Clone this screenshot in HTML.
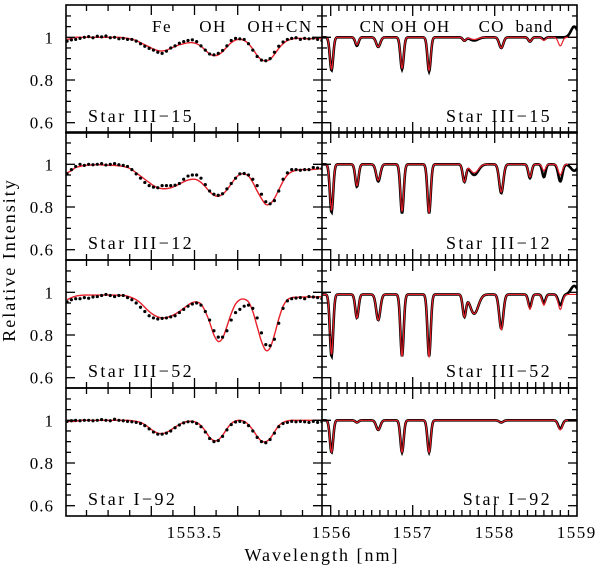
<!DOCTYPE html>
<html><head><meta charset="utf-8"><style>
html,body{margin:0;padding:0;background:#fff;}
svg{display:block;font-family:"Liberation Serif",serif;}
</style></head><body>
<svg id="chart" width="600" height="571" viewBox="0 0 600 571" xmlns="http://www.w3.org/2000/svg"></svg>
<script>
// ---- data ----
const stars = ["Star III\u221215","Star III\u221212","Star III\u221252","Star I\u221292"];
// left panel: grid 1553.20 + 0.01*i
const leftStart = 1553.205, leftStep = 0.01;
const leftModel15 = [.99,.995,1,1,1,1,1,1,1,1,1,1,1,.998,.995,.99,.985,.975,.965,.955,.945,.938,.936,.94,.948,.957,.965,.97,.974,.975,.97,.958,.94,.922,.914,.918,.933,.955,.975,.987,.99,.985,.97,.945,.915,.895,.89,.897,.92,.948,.97,.985,.992,.995,.995,.994,.993,.994,.995,.995];
const leftObs15 = [.982,.988,.99,.995,1.0,1.003,.998,1.005,1.002,1.006,.998,1.0,.993,.995,.99,.99,.982,.97,.958,.948,.94,.93,.925,.935,.95,.96,.972,.98,.985,.988,.98,.96,.94,.922,.918,.925,.938,.96,.985,.995,.993,.99,.97,.94,.91,.893,.89,.9,.93,.958,.978,.99,.995,.998,.99,.995,.993,.996,.99,.985];
const leftModel12 = [.96,.97,.985,.99,.995,.996,.997,.998,.997,.996,.995,.995,.993,.99,.985,.975,.96,.945,.93,.915,.9,.89,.886,.886,.89,.898,.908,.918,.926,.93,.928,.915,.895,.872,.855,.85,.86,.88,.908,.935,.952,.955,.945,.915,.875,.84,.812,.815,.84,.88,.92,.95,.965,.972,.975,.975,.975,.976,.978,.98];
const leftObs12 = [.955,.975,.99,1.0,.995,1.0,.998,1.0,1.003,.997,1.0,1.003,.998,.995,.99,.975,.955,.935,.915,.9,.893,.89,.9,.9,.9,.902,.91,.93,.945,.95,.95,.935,.905,.875,.86,.855,.862,.885,.91,.935,.955,.957,.95,.93,.9,.86,.825,.815,.83,.875,.93,.96,.975,.975,.972,.975,.975,.985,.983,.98];
const leftModel52 = [.965,.975,.982,.985,.987,.987,.987,.987,.987,.987,.987,.987,.986,.985,.982,.975,.965,.95,.93,.91,.895,.885,.88,.882,.888,.898,.91,.925,.94,.952,.955,.945,.91,.86,.8,.77,.785,.84,.9,.945,.965,.968,.955,.91,.84,.77,.728,.74,.8,.875,.935,.965,.975,.977,.977,.978,.978,.978,.979,.98];
const leftObs52 = [.955,.965,.97,.97,.975,.972,.978,.98,.985,.99,.985,.98,.985,.985,.975,.965,.95,.93,.91,.89,.88,.875,.878,.88,.885,.89,.905,.92,.935,.945,.95,.94,.91,.87,.82,.79,.79,.82,.87,.905,.92,.935,.94,.925,.88,.81,.755,.75,.78,.855,.925,.96,.97,.973,.975,.97,.98,.978,.975,.97];
const leftModel92 = [.995,.995,.995,1,1,1,1,1,1,1,1,1,1,1,1,.998,.995,.99,.98,.965,.95,.94,.938,.943,.955,.968,.98,.99,.995,.995,.99,.975,.95,.92,.905,.908,.93,.96,.985,.997,1,.995,.98,.955,.925,.903,.9,.915,.945,.975,.99,.997,1,1,1,1,1,1,1,1];
const leftObs92 = [.995,.998,1.0,.998,1.0,1.0,.998,1.0,1.003,1.0,.998,1.005,1.0,.998,.995,.993,.99,.985,.975,.96,.945,.935,.935,.94,.95,.965,.978,.988,.993,.993,.985,.97,.945,.915,.9,.905,.925,.955,.98,.992,.995,.99,.975,.95,.92,.9,.895,.91,.94,.97,.985,.99,.995,.993,.995,.993,.99,.995,.99,.993];
const leftModels = [leftModel15,leftModel12,leftModel52,leftModel92];
const leftObs = [leftObs15,leftObs12,leftObs52,leftObs92];
// right panel: absorption line list
const lineCenters = [1556.01,1556.32,1556.58,1556.87,1557.20,1557.63,1557.75,1558.08,1558.43,1558.60,1558.80,1558.97];
const lineWidths  = [0.02,0.02,0.025,0.02,0.02,0.02,0.05,0.025,0.02,0.02,0.025,0.04];
const modelDepth15 = [0.15,0.035,0.045,0.145,0.155,0.015,0.01,0.05,0.02,0.015,0.04,0];
const obsDepth15   = [0.155,0.04,0.045,0.15,0.16,0.015,0.015,0.05,0.02,0.01,0.0,-0.05];
const modelDepth12 = [0.215,0.10,0.075,0.22,0.225,0.08,0.04,0.13,0.06,0.03,0.05,0];
const obsDepth12   = [0.225,0.105,0.08,0.23,0.23,0.08,0.05,0.135,0.065,0.06,0.08,0.03];
const modelDepth52 = [0.28,0.11,0.12,0.29,0.29,0.10,0.09,0.165,0.07,0.05,0.07,0];
const obsDepth52   = [0.29,0.11,0.12,0.29,0.29,0.10,0.09,0.16,0.06,0.04,0.05,-0.04];
const modelDepth92 = [0.15,0.01,0.045,0.15,0.15,0.0,0.0,0.01,0.0,0.0,0.045,0];
const obsDepth92   = [0.15,0.01,0.045,0.15,0.15,0.0,0.0,0.01,0.0,0.0,0.04,0];
const modelDepths = [modelDepth15,modelDepth12,modelDepth52,modelDepth92];
const obsDepths = [obsDepth15,obsDepth12,obsDepth52,obsDepth92];
const continuum = [1.0,1.0,0.99,1.0];
const yTickLabels = ["0.6","0.8","1"];
const yTickValues = [0.6,0.8,1.0];
const xTickLabelsLeft = ["1553.5"];
const xTickValuesLeft = [1553.5];
const xTickLabelsRight = ["1556","1557","1558","1559"];
const xTickValuesRight = [1556,1557,1558,1559];

// ---- geometry ----
const NS="http://www.w3.org/2000/svg";
const svg=document.getElementById('chart');
const L0=66, L1=322, R0=322, R1=577;
const rowTops=[5,132,260,388], rowH=128;
const xL=w=>194.5+(w-1553.5)*432;
const xR=w=>330.7+(w-1556)*82;
const yv=(r,v)=>rowTops[r]+32.3+(1-v)*213.5;
function el(tag,attrs,parent){const e=document.createElementNS(NS,tag);for(const k in attrs)e.setAttribute(k,attrs[k]);(parent||svg).appendChild(e);return e;}
function txt(x,y,s,anchor,size,ls,parent){const t=el('text',{x:x,y:y,'text-anchor':anchor||'start','font-size':size||15,'letter-spacing':ls||0,fill:'#000'},parent);t.textContent=s;return t;}
function smoothPath(pts){let d='M'+pts[0][0].toFixed(2)+','+pts[0][1].toFixed(2);
 for(let i=0;i<pts.length-1;i++){const p0=pts[Math.max(0,i-1)],p1=pts[i],p2=pts[i+1],p3=pts[Math.min(pts.length-1,i+2)];
 const c1=[p1[0]+(p2[0]-p0[0])/6,p1[1]+(p2[1]-p0[1])/6],c2=[p2[0]-(p3[0]-p1[0])/6,p2[1]-(p3[1]-p1[1])/6];
 d+='C'+c1[0].toFixed(2)+','+c1[1].toFixed(2)+' '+c2[0].toFixed(2)+','+c2[1].toFixed(2)+' '+p2[0].toFixed(2)+','+p2[1].toFixed(2);}return d;}
function profile(w,depths,cont){let v=cont;for(let k=0;k<lineCenters.length;k++){const s=lineWidths[k];v-=depths[k]*Math.exp(-0.5*Math.pow((w-lineCenters[k])/s,2));}return v;}

const defs=el('defs',{});
for(let r=0;r<4;r++){
 const T=rowTops[r],B=T+rowH;
 const cpL=el('clipPath',{id:'cl'+r},defs);el('rect',{x:L0,y:T,width:L1-L0,height:rowH},cpL);
 const cpR=el('clipPath',{id:'cr'+r},defs);el('rect',{x:R0,y:T,width:R1-R0,height:rowH},cpR);
 const g=el('g',{});
 
 
 const gl=el('g',{'clip-path':'url(#cl'+r+')'},g);
 
 
 const mp=leftModels[r].map((v,i)=>[xL(leftStart+i*leftStep),yv(r,v)]);
 const m=el('path',{d:smoothPath(mp),fill:'none',stroke:'#e8202a','stroke-width':1.4},gl);
 
 
 leftObs[r].forEach((v,i)=>{const c=el('circle',{cx:xL(leftStart+i*leftStep),cy:yv(r,v),r:1.6,fill:'#000'},gl);
  
  });
 const gr=el('g',{'clip-path':'url(#cr'+r+')'},g);
 
 
 const op=[];for(let w=1555.88;w<=1559.01;w+=0.006)op.push([xR(w),yv(r,profile(w,obsDepths[r],continuum[r]))]);
 const ob=el('path',{d:'M'+op.map(p=>p[0].toFixed(2)+','+p[1].toFixed(2)).join('L'),fill:'none',stroke:'#000','stroke-width':2.6},gr);
 
 
 const rp=[];for(let w=1555.88;w<=1559.01;w+=0.004)rp.push([xR(w),yv(r,profile(w,modelDepths[r],continuum[r]))]);
 const mr=el('path',{d:'M'+rp.map(p=>p[0].toFixed(2)+','+p[1].toFixed(2)).join('L'),fill:'none',stroke:'#e8202a','stroke-width':1.2},gr);
 
 
 const tk=el('g',{stroke:'#000','stroke-width':1.3},g);
 
 
 for(let v=0.55;v<=1.151;v+=0.05){const y=yv(r,v);if(y<T+1||y>B-1)continue;const maj=Math.round(v*100)%20===0;const len=maj?9:5;
  el('line',{x1:L0,y1:y,x2:L0+len,y2:y},tk);el('line',{x1:L1-len,y1:y,x2:L1+len,y2:y},tk);el('line',{x1:R1-len,y1:y,x2:R1,y2:y},tk);}
 for(let i=0;i<=12;i++){const w=1553.2+i*0.05;const x=xL(w);if(x<L0+2||x>L1-2)continue;const maj=[1553.4,1553.5,1553.6].some(a=>Math.abs(a-w)<1e-6);const len=maj?10:6;
  el('line',{x1:x,y1:T,x2:x,y2:T+len},tk);el('line',{x1:x,y1:B,x2:x,y2:B-len},tk);}
 for(let i=0;i<=30;i++){const w=1556+i*0.1;const x=xR(w);if(x>R1-2)continue;const maj=i%10===0;const len=maj?11:6;
  el('line',{x1:x,y1:T,x2:x,y2:T+len},tk);el('line',{x1:x,y1:B,x2:x,y2:B-len},tk);}
 const f=el('rect',{x:L0,y:T,width:R1-L0,height:rowH,fill:'none',stroke:'#000','stroke-width':1.6},g);
 
 
 el('line',{x1:L1,y1:T,x2:L1,y2:B,stroke:'#000','stroke-width':1.6},g);
 yTickValues.forEach((v,i)=>{const t=txt(54,yv(r,v)+6,yTickLabels[i],'end',17,1);
  
  });
 const sl=txt(88,T+117,stars[r],'start',18,2.4);
 
 
 const sr=txt(552,T+117,stars[r],'end',18,2.4);
 
 
}
[["Fe",162],["OH",213],["OH+CN",280]].forEach(a=>{const t=txt(a[1],32,a[0],'middle',17,1.5);
 
 });
[["CN OH OH",405],["CO  band",516]].forEach(a=>{const t=txt(a[1],32,a[0],'middle',17,1.2);
 t.setAttribute('style','white-space:pre');
 
 });
xTickValuesLeft.forEach((w,i)=>{const t=txt(xL(w),538,xTickLabelsLeft[i],'middle',17,1.5);
 
 });
xTickValuesRight.forEach((w,i)=>{const t=txt(xR(w)-(i===0?-1:0),538,xTickLabelsRight[i],'middle',17,1.5);
 
 });
const xt=txt(322,561,'Wavelength [nm]','middle',18,2);


const yt=txt(0,0,'Relative Intensity','middle',18,2);
yt.setAttribute('transform','translate(15,260) rotate(-90)');


</script>
</body></html>
